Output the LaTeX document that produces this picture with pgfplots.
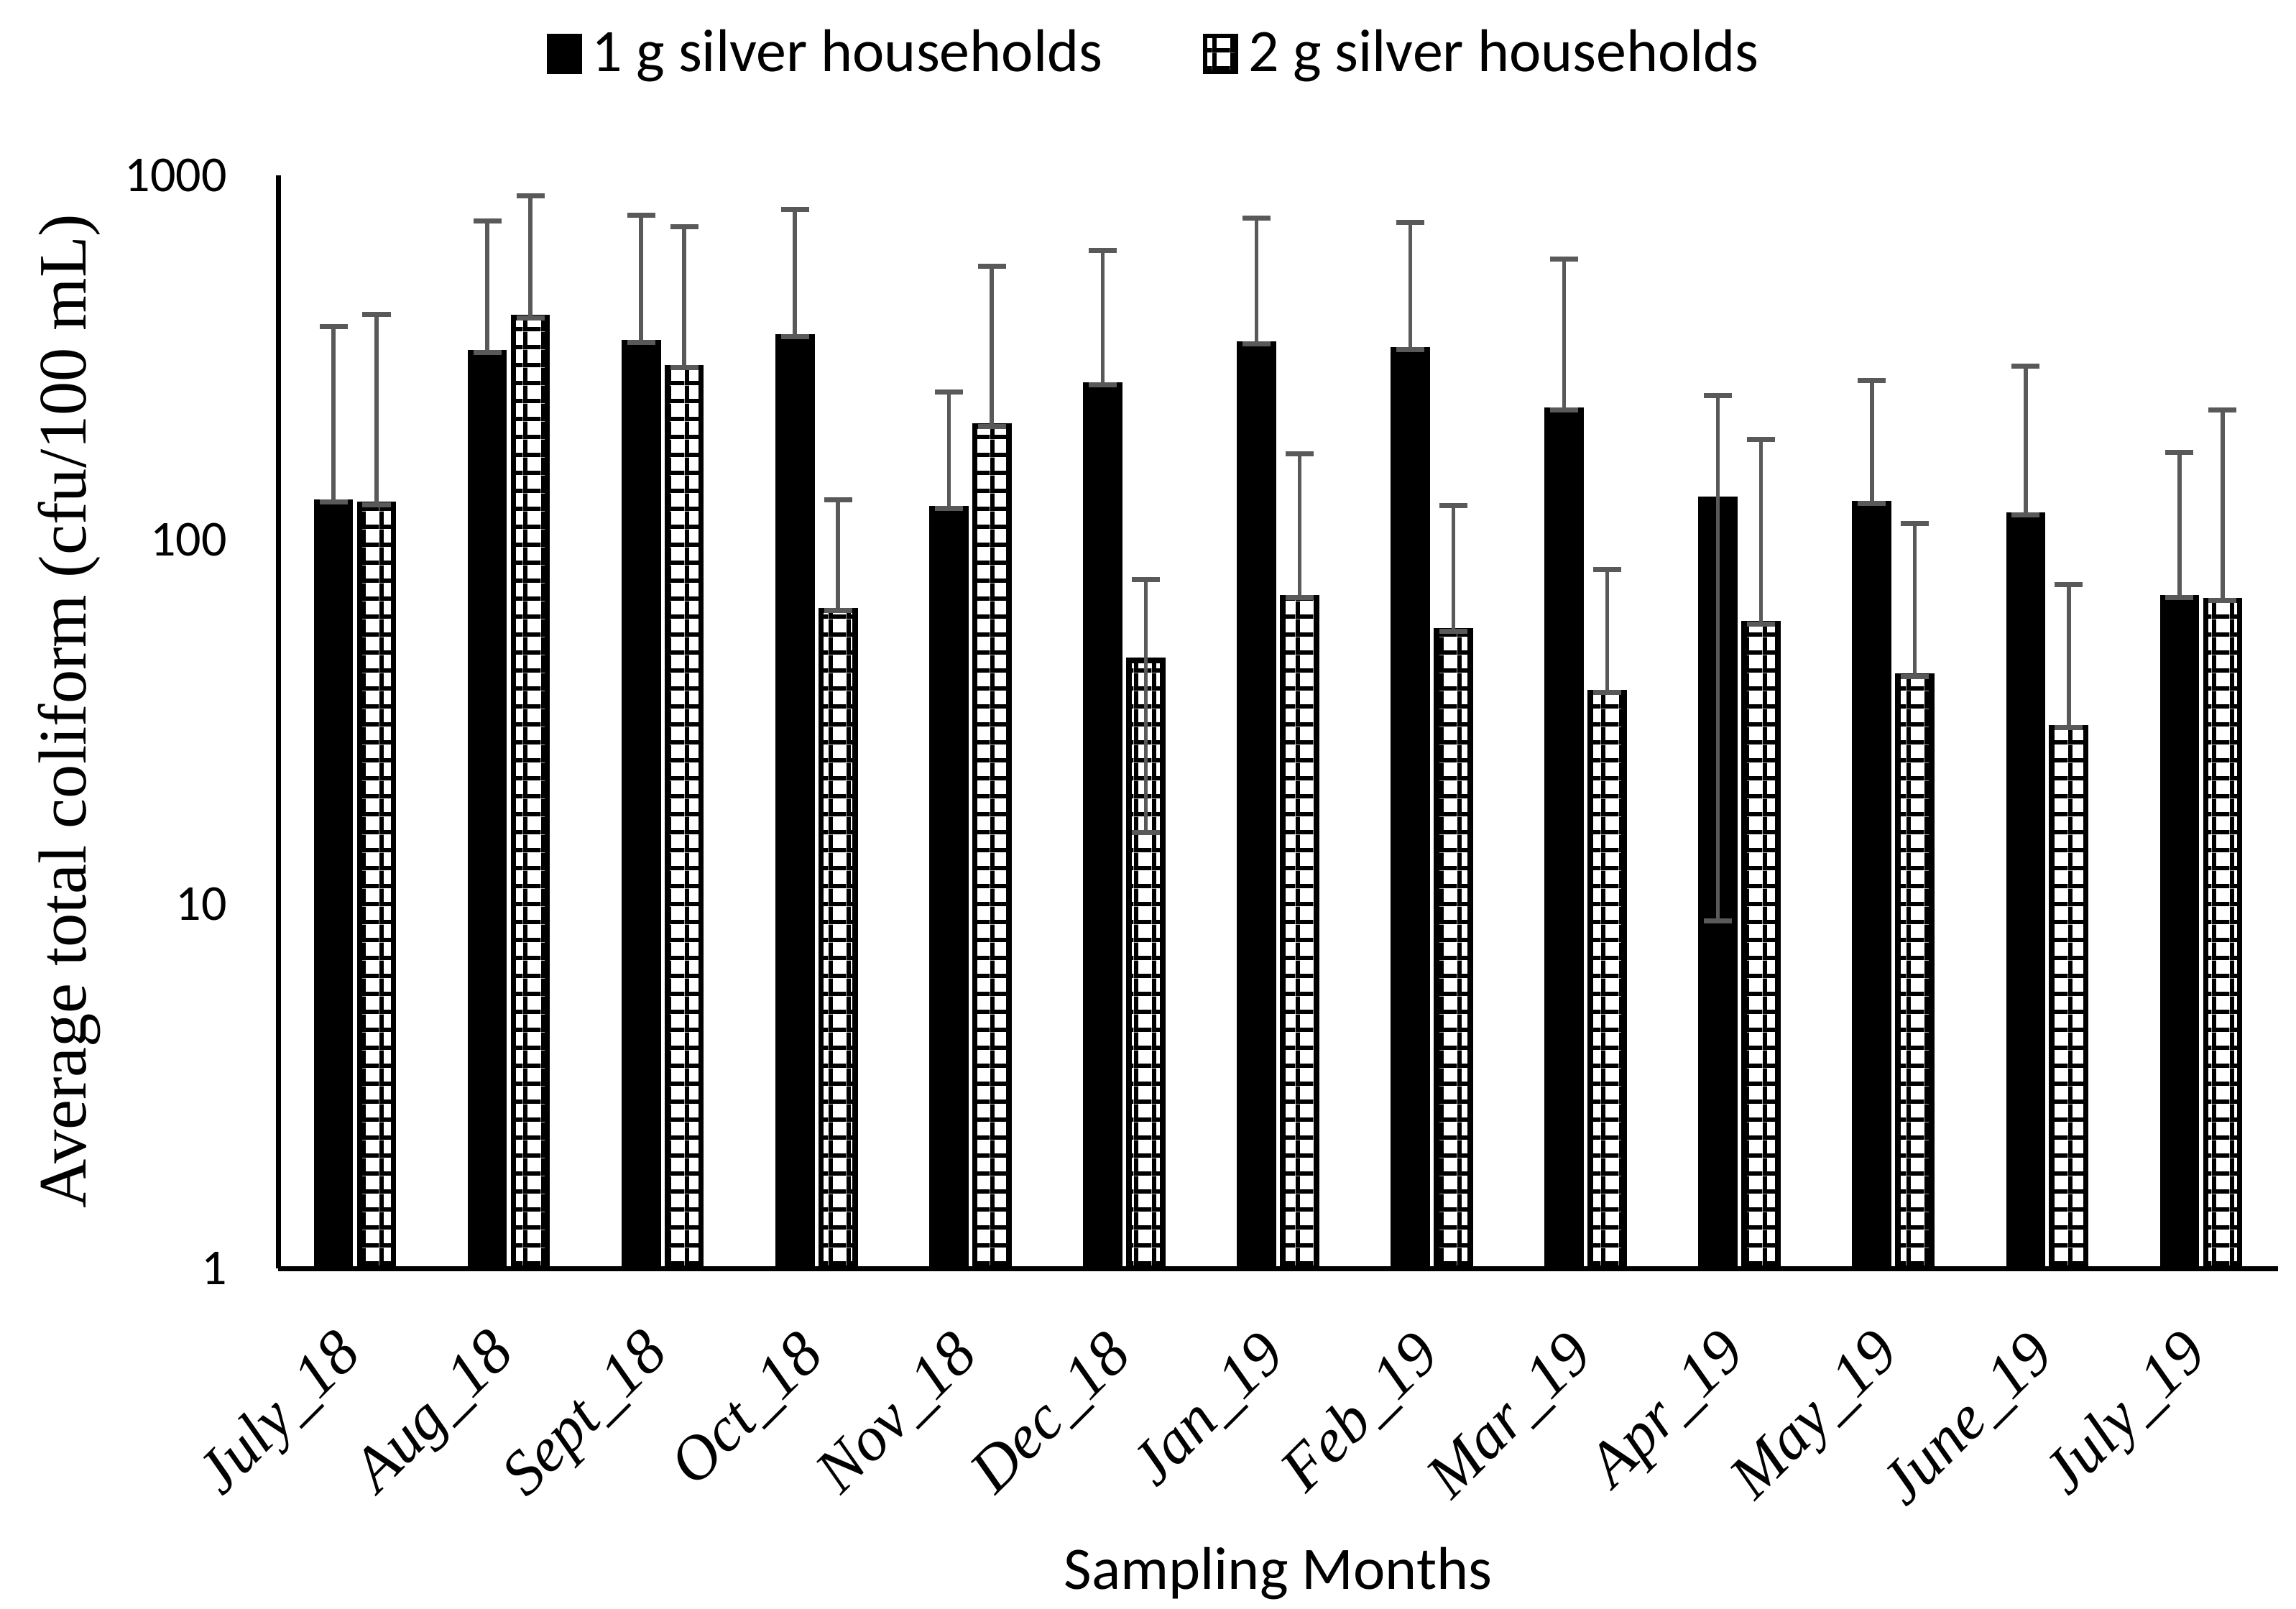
\documentclass[border=0pt]{standalone}
\usepackage{fontspec}
\setmainfont{Liberation Serif}
\newfontfamily\calibri{Carlito}
\usepackage{pgfplots}
\usepackage{pgfplotstable}
\pgfplotsset{compat=1.18}
\usetikzlibrary{patterns}
\definecolor{errgray}{HTML}{595959}

% large grid fill for the 2 g bars
\pgfdeclarepatternformonly{xlgrid}{\pgfpointorigin}{\pgfpoint{3.6pt}{3.6pt}}{\pgfpoint{3.6pt}{3.6pt}}{
  \pgfpathrectangle{\pgfpointorigin}{\pgfpoint{3.6pt}{0.85pt}}
  \pgfpathrectangle{\pgfpointorigin}{\pgfpoint{0.85pt}{3.6pt}}
  \pgfusepath{fill}
}

% x  mean  +err  -err
\pgfplotstableread{
x y ep em
0 127 258 0
1 326 424 0
2 348 430 0
3 361 447 0
4 122 132 0
5 266 358 0
6 345 419 0
7 332 411 0
8 227 363 0
9 129 120 120
10 126 148 0
11 117 183 0
12 69.5 104.5 0
}\onegram

\pgfplotstableread{
x y ep em
0 125 290 0
1 407 472 0
2 297 426 0
3 64 65 0
4 205 358 0
5 46.7 31 31
6 69.5 102.5 0
7 56.2 67.8 0
8 38.1 44.8 0
9 58.8 130 0
10 42.2 68.8 0
11 30.5 45 0
12 68.2 159 0
}\twogram

\begin{document}
\begin{tikzpicture}
\begin{axis}[
  at={(0,0)}, anchor=south west,
  width=397.6pt, height=217.3pt, scale only axis,
  ymode=log, ymin=1, ymax=1000,
  xmin=-0.5, xmax=12.5,
  axis x line*=bottom, axis y line*=left,
  axis line style={-, line width=1pt, black},
  tick style={draw=none},
  xtick={0,...,12},
  xticklabels={July\_18,Aug\_18,Sept\_18,Oct\_18,Nov\_18,Dec\_18,Jan\_19,Feb\_19,Mar\_19,Apr\_19,May\_19,June\_19,July\_19},
  ytick={1,10,100,1000},
  yticklabels={1,10,100,1000},
  xticklabel style={font=\itshape\fontsize{12.5}{14}\selectfont, rotate=45, anchor=east, inner sep=0pt, xshift=-8pt, yshift=-7.5pt},
  yticklabel style={font=\calibri\fontsize{10}{12}\selectfont, inner sep=0pt, xshift=-10pt},
  xlabel={Sampling Months},
  xlabel style={font=\calibri\fontsize{12}{14}\selectfont, at={(axis description cs:0.5,-0.279)}, anchor=center},
  ylabel={Average total coliform (cfu/100 mL)},
  ylabel style={font=\fontsize{13.5}{16}\selectfont, at={(axis description cs:-0.1046,0.51)}, anchor=center},
  ybar, bar width=0.22,
  legend columns=2,
  legend style={at={(0.44,1.111)}, anchor=center, draw=none, font=\calibri\fontsize{12}{14}\selectfont,
    /tikz/every even column/.append style={column sep=18pt}},
  legend image code/.code={\draw[#1, line width=0.8pt] (0pt,-3.6pt) rectangle (6.2pt,3.6pt);},
  error bars/y dir=both, error bars/y explicit,
  error bars/error bar style={line width=0.8pt, draw=errgray},
  error bars/error mark options={rotate=90, line width=1pt, mark size=2.8pt, draw=errgray},
]
\addplot[bar shift=-0.14, fill=black, draw=black, line width=1.07pt]
  table[x=x, y=y, y error plus=ep, y error minus=em]{\onegram};
\addlegendentry{1 g silver households}
\addplot[bar shift=0.14, fill=white, draw=black, line width=1.07pt, postaction={pattern=xlgrid}]
  table[x=x, y=y, y error plus=ep, y error minus=em]{\twogram};
\addlegendentry{2 g silver households}
\end{axis}
\pgfresetboundingbox
\path (-55.3pt,-67.7pt) rectangle (401.2pt,252.2pt);
\end{tikzpicture}
\end{document}
